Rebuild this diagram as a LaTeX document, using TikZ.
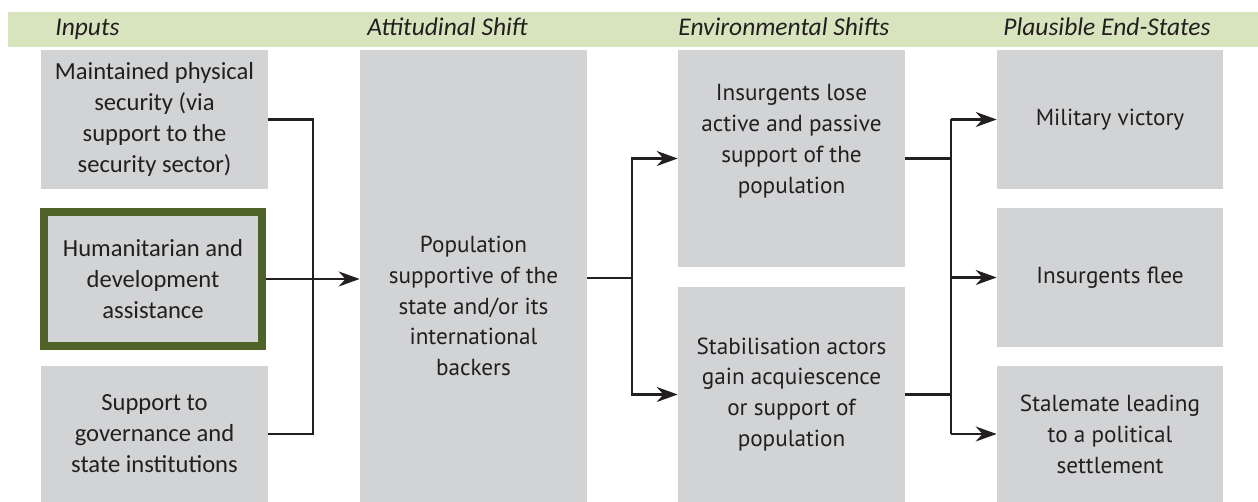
\documentclass[tikz,border=0pt]{standalone}
\usepackage{fontspec}
\setmainfont{Carlito}
\newfontfamily\shiftfont{PT Sans}
\usetikzlibrary{arrows.meta,positioning}
\definecolor{boxgray}{RGB}{209,211,212}
\definecolor{bandgreen}{RGB}{216,228,189}
\definecolor{framegreen}{RGB}{79,98,40}
\definecolor{ink}{RGB}{35,31,32}
\tikzstyle{every node}=[text=ink]
\tikzstyle{panel}=[fill=boxgray,inner sep=0pt,minimum width=4.54cm,align=center]
\tikzstyle{inbox}=[panel,font=\fontsize{14}{17.6}\selectfont]
\tikzstyle{shiftbox}=[panel,font=\shiftfont\fontsize{13.2}{17.6}\selectfont]
\tikzstyle{shifttext}=[align=center,font=\shiftfont\fontsize{13.2}{17.6}\selectfont]
\tikzstyle{heading}=[anchor=base west,inner sep=0pt,font=\itshape\fontsize{14.5}{17}\selectfont]
\tikzstyle{link}=[draw=ink,line width=1.3pt]

\begin{document}
\begin{tikzpicture}[x=0.02cm,y=-0.02cm,>={Stealth[length=0.42cm,width=0.3cm]}]
  \useasboundingbox (0,0) rectangle (1258,502);
  % column headings
  \fill[bandgreen] (8,12) rectangle (1258,47);
  \node[heading] (hin)  at (55,36)   {Inputs};
  \node[heading] (hatt) at (367,36)  {Attitudinal Shift};
  \node[heading] (henv) at (678,36)  {Environmental Shifts};
  \node[heading] (hend) at (1003,36) {Plausible End-States};

  % inputs
  \node[inbox,minimum height=2.78cm] (in1) at (154.5,119.5)
    {Maintained physical\\security (via\\support to the\\security sector)};
  \node[inbox,draw=framegreen,line width=0.16cm,minimum width=4.36cm,minimum height=2.68cm] (in2) at (153,279)
    {Humanitarian and\\development\\assistance};
  \node[inbox,minimum height=2.72cm] (in3) at (154.5,434)
    {Support to\\governance and\\state institutions};

  % attitudinal shift
  \node[shiftbox,minimum height=9.04cm] (pop) at (473.5,276) {};
  \node[shifttext] (poptext) at (473.5,306)
    {Population\\supportive of the\\state and/or its\\international\\backers};

  % environmental shifts
  \node[shiftbox,minimum height=4.34cm] (env1) at (791.5,158.5) {};
  \node[shifttext] (env1text) at (791.5,141)
    {Insurgents lose\\active and passive\\support of the\\population};
  \node[shiftbox,minimum height=4.3cm] (env2) at (791.5,394.5)
    {Stabilisation actors\\gain acquiescence\\or support of\\population};

  % end-states
  \node[shiftbox,minimum width=4.52cm,minimum height=2.78cm] (end1) at (1110,119.5) {Military victory};
  \node[shiftbox,minimum width=4.52cm,minimum height=2.78cm] (end2) at (1110,277.5) {Insurgents flee};
  \node[shiftbox,minimum width=4.52cm,minimum height=2.72cm] (end3) at (1110,434)
    {Stalemate leading\\to a political\\settlement};

  % connectors
  \coordinate (jin) at (313,278);
  \draw[link] (in1.east) -| (jin) |- (in3.east);
  \draw[link,->] (in2.east) -- (in2.east -| pop.west);

  \coordinate (jpop) at (632,278);
  \draw[link] (pop.east |- jpop) -- (jpop);
  \draw[link,->] (jpop) |- (env1.west);
  \draw[link,->] (jpop) |- (env2.west);

  \coordinate (jend) at (951,278);
  \draw[link] (env1.east) -- (env1.east -| jend);
  \draw[link] (env2.east) -- (env2.east -| jend);
  \draw[link] (jend |- end1.west) -- (jend |- end3.west);
  \draw[link,->] (jend |- end1.west) -- (end1.west);
  \draw[link,->] (jend |- end2.west) -- (end2.west);
  \draw[link,->] (jend |- end3.west) -- (end3.west);
\end{tikzpicture}
\end{document}
